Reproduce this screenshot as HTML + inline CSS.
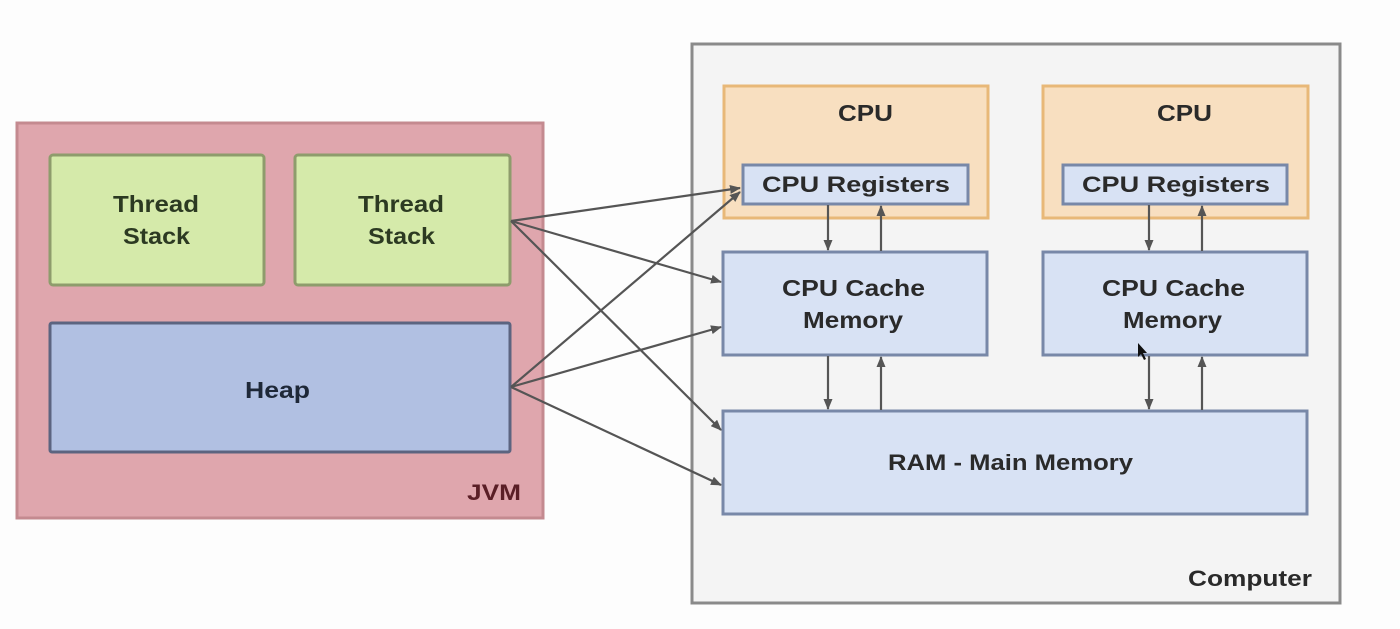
<!DOCTYPE html>
<html><head><meta charset="utf-8"><style>
html,body{margin:0;padding:0;background:#fff;}
svg{display:block}
text{font-family:"Liberation Sans",sans-serif;font-weight:bold;}
</style></head><body>
<svg width="1400" height="629" viewBox="0 0 1400 629">
<defs>
<marker id="a" markerWidth="11" markerHeight="9" refX="10" refY="4.5" orient="auto" markerUnits="userSpaceOnUse">
<path d="M0,0 L11,4.5 L0,9 z" fill="#555"/></marker>
</defs>
<rect x="0" y="0" width="1400" height="629" fill="#fdfdfd"/>
<!-- JVM -->
<rect x="17" y="123" width="526" height="395" fill="#dfa6ad" stroke="#c48a90" stroke-width="3"/>
<rect x="50" y="155" width="214" height="130" rx="3" fill="#d5eaaa" stroke="#8e9c6c" stroke-width="3"/>
<rect x="295" y="155" width="215" height="130" rx="3" fill="#d5eaaa" stroke="#8e9c6c" stroke-width="3"/>
<rect x="50" y="323" width="460" height="129" rx="2" fill="#b1c0e2" stroke="#5c6480" stroke-width="3"/>
<g fill="#2c3a22" font-size="23">
<text x="113" y="212" textLength="86" lengthAdjust="spacingAndGlyphs">Thread</text><text x="123" y="244" textLength="67" lengthAdjust="spacingAndGlyphs">Stack</text>
<text x="358" y="212" textLength="86" lengthAdjust="spacingAndGlyphs">Thread</text><text x="368" y="244" textLength="67" lengthAdjust="spacingAndGlyphs">Stack</text>
</g>
<text x="245" y="398" font-size="23" textLength="65" lengthAdjust="spacingAndGlyphs" fill="#1e2838">Heap</text>
<text x="467" y="500" font-size="22" textLength="54" lengthAdjust="spacingAndGlyphs" fill="#5a1e26">JVM</text>
<!-- Computer -->
<rect x="692" y="44" width="648" height="559" fill="#f4f4f4" stroke="#8a8a8a" stroke-width="3"/>
<rect x="724" y="86" width="264" height="132" fill="#f8dfc0" stroke="#e8b878" stroke-width="3"/>
<rect x="1043" y="86" width="265" height="132" fill="#f8dfc0" stroke="#e8b878" stroke-width="3"/>
<rect x="743" y="165" width="225" height="39" fill="#d8e2f4" stroke="#7888a8" stroke-width="3"/>
<rect x="1063" y="165" width="224" height="39" fill="#d8e2f4" stroke="#7888a8" stroke-width="3"/>
<rect x="723" y="252" width="264" height="103" fill="#d8e2f4" stroke="#7888a8" stroke-width="3"/>
<rect x="1043" y="252" width="264" height="103" fill="#d8e2f4" stroke="#7888a8" stroke-width="3"/>
<rect x="723" y="411" width="584" height="103" fill="#d8e2f4" stroke="#7888a8" stroke-width="3"/>
<g fill="#2a2a2a" lengthAdjust="spacingAndGlyphs">
<text x="838" y="121" font-size="23" textLength="55" lengthAdjust="spacingAndGlyphs">CPU</text>
<text x="1157" y="121" font-size="23" textLength="55" lengthAdjust="spacingAndGlyphs">CPU</text>
<text x="762" y="192" font-size="22" textLength="188" lengthAdjust="spacingAndGlyphs">CPU Registers</text>
<text x="1082" y="192" font-size="22" textLength="188" lengthAdjust="spacingAndGlyphs">CPU Registers</text>
<text x="782" y="296" font-size="23" textLength="143" lengthAdjust="spacingAndGlyphs">CPU Cache</text><text x="803" y="328" font-size="23" textLength="100" lengthAdjust="spacingAndGlyphs">Memory</text>
<text x="1102" y="296" font-size="23" textLength="143" lengthAdjust="spacingAndGlyphs">CPU Cache</text><text x="1123" y="328" font-size="23" textLength="99" lengthAdjust="spacingAndGlyphs">Memory</text>
<text x="888" y="470" font-size="22" textLength="245" lengthAdjust="spacingAndGlyphs">RAM - Main Memory</text>
<text x="1188" y="586" font-size="22" textLength="124" lengthAdjust="spacingAndGlyphs">Computer</text>
</g>
<g stroke="#555" stroke-width="2.2" fill="none" marker-end="url(#a)">
<line x1="828" y1="205" x2="828" y2="250"/>
<line x1="881" y1="251" x2="881" y2="206"/>
<line x1="828" y1="356" x2="828" y2="409"/>
<line x1="881" y1="410" x2="881" y2="357"/>
<line x1="1149" y1="205" x2="1149" y2="250"/>
<line x1="1202" y1="251" x2="1202" y2="206"/>
<line x1="1149" y1="356" x2="1149" y2="409"/>
<line x1="1202" y1="410" x2="1202" y2="357"/>
<line x1="511" y1="221" x2="740" y2="188"/>
<line x1="511" y1="221" x2="721" y2="282"/>
<line x1="511" y1="221" x2="721" y2="430"/>
<line x1="511" y1="387" x2="740" y2="192"/>
<line x1="511" y1="387" x2="721" y2="327"/>
<line x1="511" y1="387" x2="721" y2="485"/>
</g>
<path d="M1138,343 l0,14 l3,-3 l3,6 l2,-1 l-3,-6 l4,0 z" fill="#111"/>
</svg>
</body></html>
